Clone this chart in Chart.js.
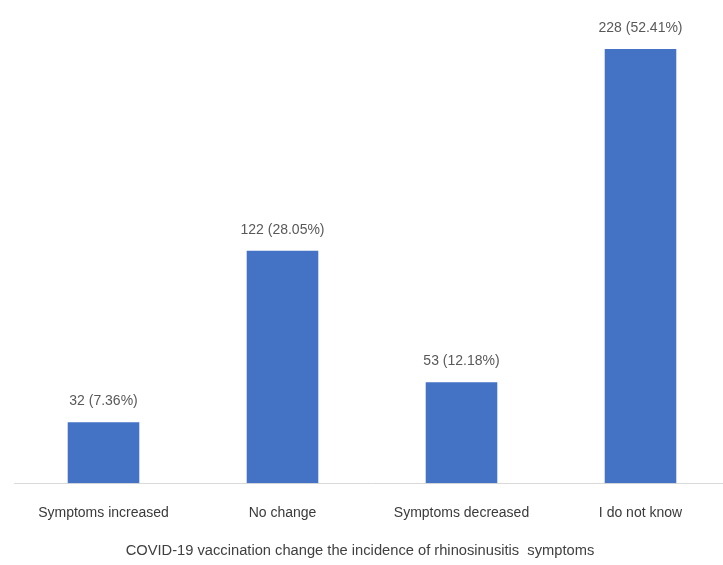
<!DOCTYPE html>
<html>
<head>
<meta charset="utf-8">
<script src="https://cdn.jsdelivr.net/npm/chart.js@4/dist/chart.umd.min.js"></script>
<style>
  html, body { margin: 0; padding: 0; background: #fff; overflow: hidden; }
  #wrap { position: relative; width: 723px; height: 565px; overflow: hidden; }
  #chart { position: absolute; left: 0; top: 0; }
  #caption {
    position: absolute; left: 0; top: 540px; width: 720px;
    text-align: center; font: 14.7px "Liberation Sans", Arial, sans-serif;
    color: #404040; line-height: 20px;
  }
</style>
</head>
<body>
<div id="wrap">
  <canvas id="chart" width="730" height="565"></canvas>
  <div id="caption">COVID-19 vaccination change the incidence of rhinosinusitis&nbsp; symptoms</div>
</div>
<script>
const categories = ['Symptoms increased', 'No change', 'Symptoms decreased', 'I do not know'];
const counts = [32, 122, 53, 228];
const percents = ['7.36%', '28.05%', '12.18%', '52.41%'];

const FONT = '"Liberation Sans", Arial, sans-serif';

// value labels above each bar: "count (percent)"
const barLabels = {
  id: 'barLabels',
  afterDatasetsDraw(chart) {
    const ctx = chart.ctx;
    const meta = chart.getDatasetMeta(0);
    ctx.save();
    ctx.font = '14px ' + FONT;
    ctx.fillStyle = '#595959';
    ctx.textAlign = 'center';
    ctx.textBaseline = 'bottom';
    meta.data.forEach((bar, i) => {
      ctx.fillText(`${counts[i]} (${percents[i]})`, bar.x, bar.y - 14);
    });
    ctx.restore();
  }
};

new Chart(document.getElementById('chart'), {
  type: 'bar',
  data: {
    labels: categories,
    datasets: [{
      data: counts,
      backgroundColor: '#4472C4',
      borderWidth: 0,
      categoryPercentage: 1,
      barPercentage: 0.4
    }]
  },
  options: {
    responsive: false,
    animation: false,
    layout: { padding: { left: 14, right: 0, top: 7, bottom: 21 } },
    plugins: { legend: { display: false }, tooltip: { enabled: false } },
    scales: {
      x: {
        grid: { display: false, drawTicks: false },
        border: { display: true, color: '#D9D9D9', width: 1 },
        ticks: { color: '#3a3a3a', font: { family: FONT, size: 14 }, padding: 22, maxRotation: 0 }
      },
      y: { display: false, min: 0, max: 250 }
    }
  },
  plugins: [barLabels]
});
</script>
</body>
</html>
